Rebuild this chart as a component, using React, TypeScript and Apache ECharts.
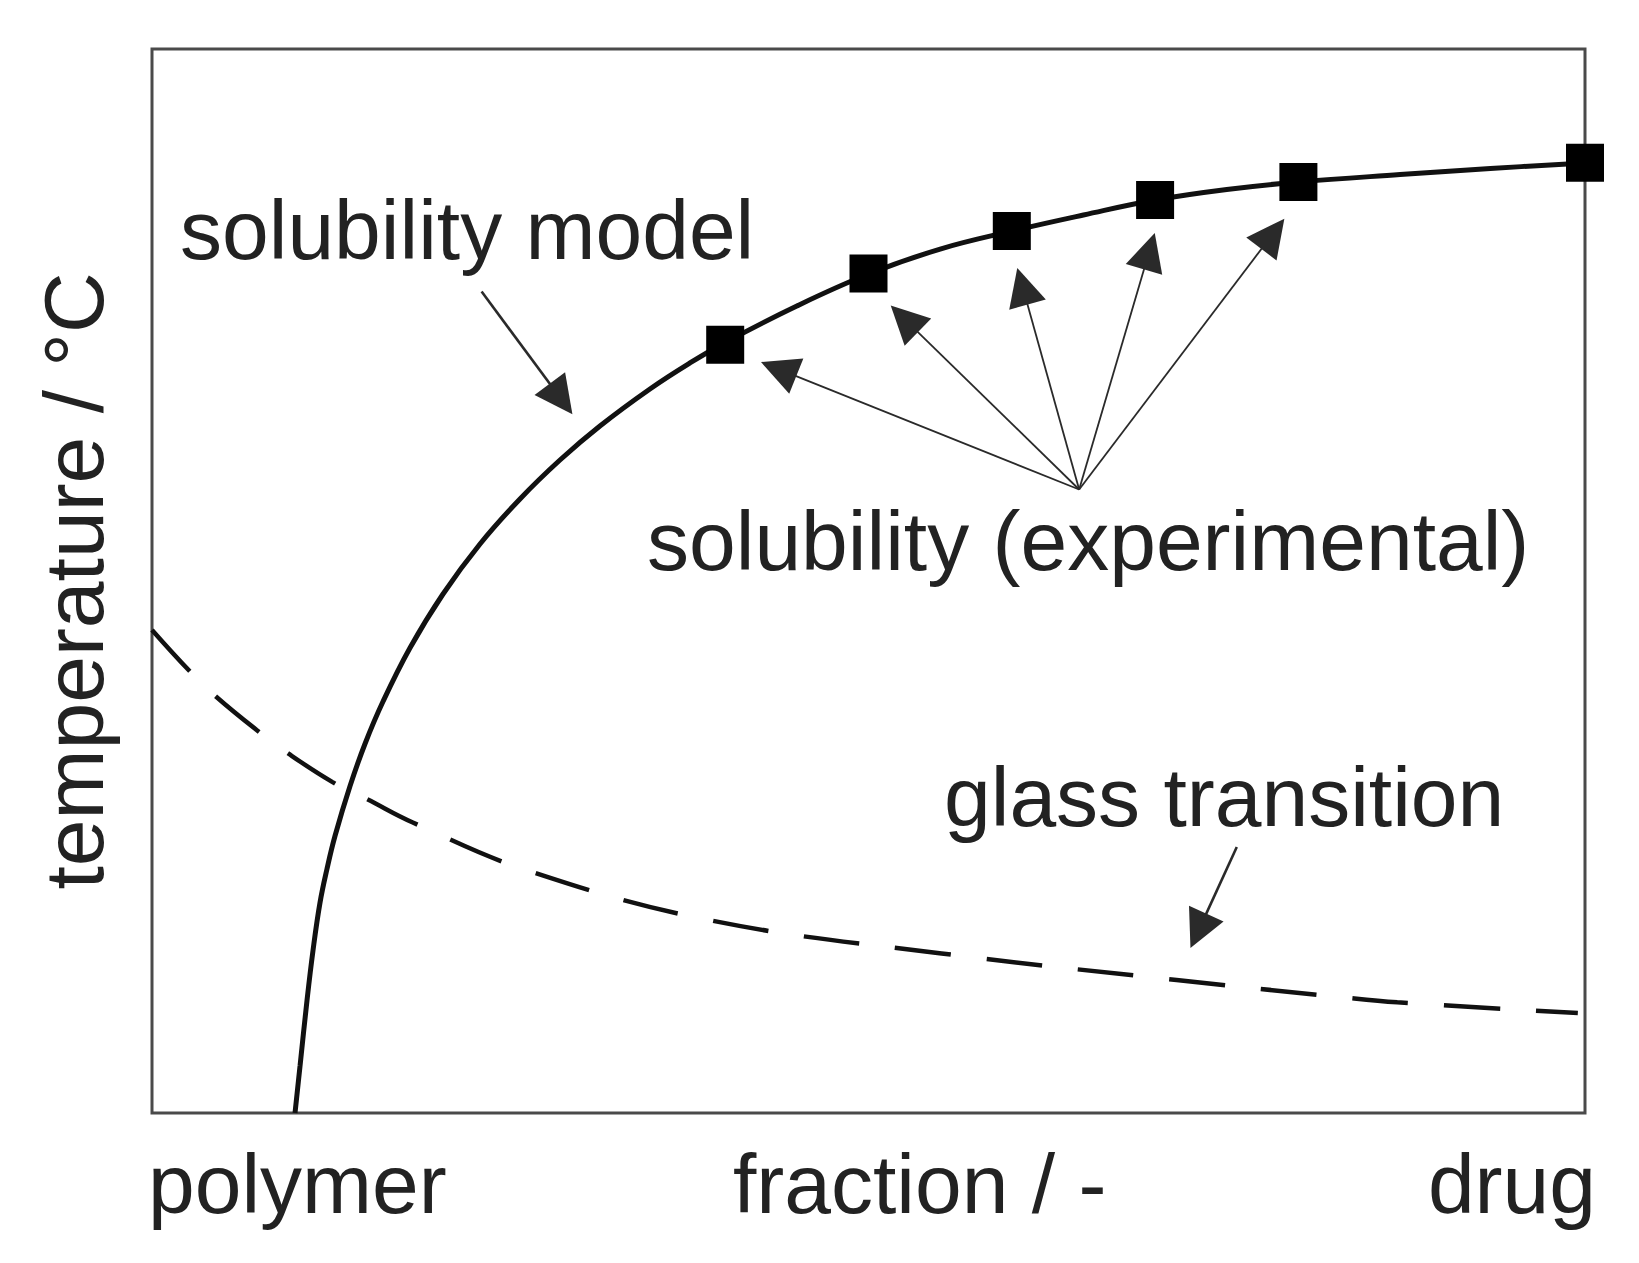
import React, { useEffect, useRef } from 'react';
import * as echarts from 'echarts';

// solubility model curve (fraction of drug, temperature in arbitrary units 0..100)
const modelX = [0.0998, 0.1033, 0.1082, 0.1124, 0.1172, 0.1221, 0.1277, 0.1382, 0.1486, 0.1612, 0.1800, 0.2031, 0.2289, 0.2568, 0.2847, 0.3126, 0.3475, 0.3754, 0.400, 0.450, 0.500, 0.550, 0.600, 0.650, 0.700, 0.750, 0.800, 0.871, 0.934, 1.000];
const modelY = [0, 4.42, 10.62, 15.32, 19.74, 22.93, 26.03, 30.73, 34.68, 38.67, 43.70, 48.78, 53.48, 57.71, 61.37, 64.57, 68.05, 70.49, 72.42, 75.85, 78.85, 81.20, 82.89, 84.40, 85.81, 86.80, 87.50, 88.20, 88.77, 89.29];

// experimental solubility points
const expX = [0.4, 0.5, 0.6, 0.7, 0.8, 1.0];
const expY = [72.2, 78.9, 82.9, 85.8, 87.5, 89.3];

// glass transition curve
const glassX = [0, 0.0265, 0.045, 0.073, 0.095, 0.126, 0.150, 0.182, 0.262, 0.390, 0.551, 0.715, 0.829, 0.869, 0.995];
const glassY = [45.4, 41.5, 39.1, 36.0, 33.8, 31.1, 29.5, 27.3, 22.8, 18.1, 15.0, 12.5, 10.9, 10.4, 9.4];

// annotation arrows (data coordinates)
const expArrowFrom = [0.647, 58.6];
const expArrowTo = [
  [0.4373, 69.91],
  [0.5250, 74.64],
  [0.6074, 77.70],
  [0.6960, 81.0],
  [0.7822, 82.63],
];
const modelArrow = [[0.230, 77.2], [0.2855, 67.11]];
const glassArrow = [[0.757, 25.0], [0.7302, 17.12]];

// texts
const xLabelLeft = 'polymer';
const xLabelMid = 'fraction / -';
const xLabelRight = 'drug';
const yLabel = 'temperature / °C';
const labelModel = 'solubility model';
const labelExp = 'solubility (experimental)';
const labelGlass = 'glass transition';

const FONT = "'Liberation Sans', Arial, Helvetica, sans-serif";
const FS = 84;
const TXT = '#222';

export default function App() {
  const ref = useRef<HTMLDivElement>(null);
  useEffect(() => {
    if (!ref.current) return;
    const chart = echarts.init(ref.current, null, { renderer: 'svg' });
    const zip = (xs: number[], ys: number[]) => xs.map((x, i) => [x, ys[i]]);
    const arrowData: any[] = [];
    expArrowTo.forEach((t) => {
      arrowData.push([
        { coord: expArrowFrom },
        { coord: t },
      ]);
    });
    arrowData.push([
      { coord: modelArrow[0], lineStyle: { width: 2.6 } },
      { coord: modelArrow[1] },
    ]);
    arrowData.push([
      { coord: glassArrow[0], lineStyle: { width: 2.6 } },
      { coord: glassArrow[1] },
    ]);
    const txt = (text: string, x: number, y: number, align: string, rotation = 0) => ({
      type: 'text',
      x,
      y,
      rotation,
      silent: true,
      style: {
        text,
        fontFamily: FONT,
        fontSize: FS,
        fill: TXT,
        align,
        verticalAlign: 'middle',
      },
    });
    chart.setOption({
      animation: false,
      backgroundColor: '#ffffff',
      grid: {
        show: true,
        left: 152,
        top: 49,
        width: 1433,
        height: 1064,
        borderColor: '#4a4a4a',
        borderWidth: 3,
        backgroundColor: 'transparent',
      },
      xAxis: {
        type: 'value',
        min: 0,
        max: 1,
        axisLine: { show: false },
        axisTick: { show: false },
        axisLabel: { show: false },
        splitLine: { show: false },
      },
      yAxis: {
        type: 'value',
        min: 0,
        max: 100,
        axisLine: { show: false },
        axisTick: { show: false },
        axisLabel: { show: false },
        splitLine: { show: false },
      },
      series: [
        {
          name: 'glass transition',
          type: 'line',
          data: zip(glassX, glassY),
          smooth: 0.4,
          showSymbol: false,
          clip: false,
          lineStyle: { color: '#111', width: 4.5, type: [56, 36], cap: 'butt' },
          z: 2,
        },
        {
          name: 'solubility model',
          type: 'line',
          data: zip(modelX, modelY),
          smooth: 0.4,
          showSymbol: false,
          clip: false,
          lineStyle: { color: '#111', width: 5 },
          z: 3,
        },
        {
          name: 'solubility (experimental)',
          type: 'scatter',
          data: zip(expX, expY),
          symbol: 'rect',
          symbolSize: 38,
          clip: false,
          itemStyle: { color: '#000', opacity: 1 },
          z: 4,
          markLine: {
            silent: true,
            animation: false,
            symbol: ['none', 'triangle'],
            symbolSize: 38,
            label: { show: false },
            lineStyle: { color: '#2a2a2a', width: 1.8, type: 'solid', opacity: 1 },
            emphasis: { disabled: true },
            data: arrowData,
          },
        },
      ],
      graphic: [
        txt(labelModel, 180, 230, 'left'),
        txt(labelExp, 647, 541, 'left'),
        txt(labelGlass, 944, 797, 'left'),
        txt(xLabelLeft, 148, 1184, 'left'),
        txt(xLabelMid, 733, 1184, 'left'),
        txt(xLabelRight, 1596, 1184, 'right'),
        txt(yLabel, 74, 581, 'center', Math.PI / 2),
      ],
    });
    return () => chart.dispose();
  }, []);
  return (
    <div
      ref={ref}
      style={{ position: 'absolute', left: 0, top: 0, width: 1639, height: 1263, background: '#fff' }}
    />
  );
}
